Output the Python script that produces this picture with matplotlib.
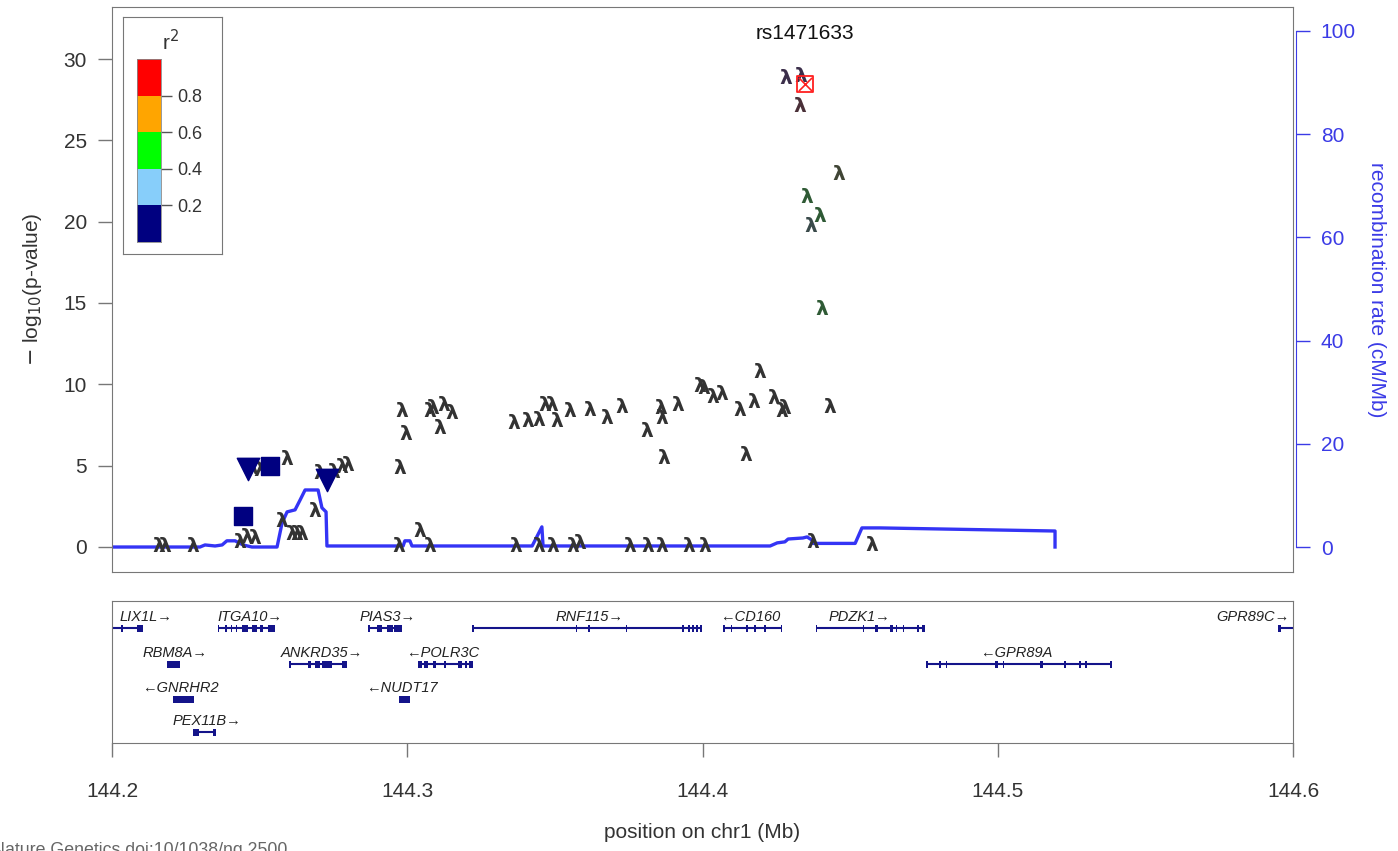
import numpy as np
import matplotlib.pyplot as plt
from matplotlib.patches import Rectangle

plt.rcParams['font.family'] = ['Liberation Sans', 'DejaVu Sans']

# ---- data ----
lead_name = "rs1471633"
lead_pos = 144.4347
lead_logp = 28.45

# SNPs drawn with the lambda glyph
snp_pos = [144.4283, 144.4334, 144.4330, 144.4462, 144.4354, 144.4398, 144.4367, 144.4405,
           144.2981, 144.2995, 144.2975, 144.3075, 144.3088, 144.3122, 144.3150, 144.3109,
           144.3359, 144.3408, 144.3444, 144.3467, 144.3489, 144.3506, 144.3549, 144.3617,
           144.3675, 144.3726, 144.3811, 144.3859, 144.3862, 144.3870, 144.3916, 144.3992,
           144.4003, 144.4033, 144.4065, 144.4127, 144.4172, 144.4147, 144.4195, 144.4242,
           144.4268, 144.4279, 144.4430,
           144.2970, 144.3043, 144.3077, 144.3368, 144.3447, 144.3494, 144.3562, 144.3585,
           144.3752, 144.3816, 144.3862, 144.3952, 144.4009, 144.4375, 144.4573,
           144.2157, 144.2180, 144.2273, 144.2434, 144.2456, 144.2484, 144.2472, 144.2501,
           144.2592, 144.2575, 144.2609, 144.2626, 144.2642, 144.2688, 144.2704, 144.2750,
           144.2778, 144.2800]
snp_logp = [28.8, 28.9, 27.1, 22.9, 21.5, 20.3, 19.7, 14.6,
            8.3, 6.9, 4.8, 8.3, 8.5, 8.7, 8.2, 7.3,
            7.6, 7.7, 7.8, 8.7, 8.7, 7.7, 8.3, 8.4,
            7.9, 8.6, 7.1, 8.5, 7.9, 5.45, 8.7, 9.85,
            9.75, 9.2, 9.4, 8.4, 8.9, 5.65, 10.7, 9.1,
            8.3, 8.5, 8.6,
            0.0, 0.95, 0.0, 0.0, 0.0, 0.0, 0.0, 0.2,
            0.0, 0.0, 0.0, 0.0, 0.0, 0.25, 0.1,
            0.0, 0.0, 0.0, 0.3, 0.6, 0.5, 4.8, 4.7,
            5.35, 1.55, 0.75, 0.75, 0.75, 2.2, 4.5, 4.6,
            4.9, 5.0]
snp_color = ["#3b2e4a", "#3b2e4a", "#4a3038", "#404535", "#2f5a35", "#2f5a35", "#3a4a4a", "#2f5a35"] + \
            ["#333333"] * (len(snp_pos) - 8)

# SNPs with other symbols (r2 < 0.2, navy)
tri_pos = [144.2462, 144.2727]
tri_logp = [4.8, 4.1]
sq_pos = [144.2445, 144.2535]
sq_logp = [1.9, 5.0]

# recombination rate (cM/Mb)
rec_pos = [144.2000, 144.2298, 144.2315, 144.2349, 144.2373, 144.2389, 144.2417, 144.2444,
           144.2474, 144.2559, 144.2576, 144.2593, 144.2620, 144.2637, 144.2654, 144.2698,
           144.2711, 144.2725, 144.2728, 144.2986, 144.2992, 144.3009, 144.3016, 144.3423,
           144.3456, 144.3460, 144.4229, 144.4253, 144.4279, 144.4290, 144.4340, 144.4354,
           144.4371, 144.4374, 144.4517, 144.4540, 144.4601, 144.5194, 144.5194]
rec_rate = [0.0, 0.0, 0.4, 0.2, 0.4, 1.2, 1.2, 0.4,
            0.0, 0.0, 4.65, 6.8, 7.2, 9.1, 11.05, 11.05,
            7.6, 6.8, 0.2, 0.2, 1.2, 1.2, 0.2, 0.2,
            3.9, 0.2, 0.2, 0.8, 1.0, 1.55, 1.75, 1.95,
            1.35, 0.7, 0.7, 3.7, 3.7, 3.1, 0.0]

# genes
gene_name = ["LIX1L", "ITGA10", "PIAS3", "RNF115", "CD160", "PDZK1", "GPR89C",
             "RBM8A", "ANKRD35", "POLR3C", "GPR89A", "GNRHR2", "NUDT17", "PEX11B"]
gene_strand = ["+", "+", "+", "+", "-", "+", "+", "+", "+", "-", "-", "-", "-", "+"]
gene_row = [0, 0, 0, 0, 0, 0, 0, 1, 1, 1, 1, 2, 2, 3]
gene_start = [144.1995, 144.2359, 144.2870, 144.3222, 144.4068, 144.4387, 144.5949,
              144.2185, 144.2603, 144.3036, 144.4757, 144.2207, 144.2972, 144.2274]
gene_end = [144.2104, 144.2552, 144.2982, 144.3998, 144.4268, 144.4754, 144.6005,
            144.2230, 144.2796, 144.3222, 144.5383, 144.2278, 144.3009, 144.2352]
gene_label_x = [144.2115, 144.2467, 144.2933, 144.3619, 144.4161, 144.4533, 144.5864,
                144.2213, 144.2711, 144.3121, 144.5062, 144.2230, 144.2982, 144.2322]
gene_exons = [
    [(144.2034, 144.2034), (144.2085, 144.2105)],
    [(144.2360, 144.2360), (144.2386, 144.2386), (144.2405, 144.2405), (144.2422, 144.2422),
     (144.2439, 144.2461), (144.2473, 144.2490), (144.2501, 144.2512), (144.2529, 144.2552)],
    [(144.2871, 144.2871), (144.2897, 144.2913), (144.2930, 144.2953), (144.2955, 144.2981)],
    [(144.3222, 144.3222), (144.3574, 144.3574), (144.3616, 144.3616), (144.3743, 144.3743),
     (144.3934, 144.3934), (144.3954, 144.3954), (144.3968, 144.3968), (144.3981, 144.3981),
     (144.3991, 144.3998)],
    [(144.4068, 144.4076), (144.4099, 144.4099), (144.4150, 144.4150), (144.4178, 144.4178),
     (144.4212, 144.4212), (144.4268, 144.4268)],
    [(144.4387, 144.4387), (144.4545, 144.4545), (144.4584, 144.4595), (144.4635, 144.4646),
     (144.4657, 144.4657), (144.4680, 144.4680), (144.4725, 144.4732), (144.4745, 144.4754)],
    [(144.5949, 144.5959)],
    [(144.2185, 144.2230)],
    [(144.2603, 144.2603), (144.2665, 144.2673), (144.2688, 144.2704), (144.2710, 144.2744),
     (144.2778, 144.2796)],
    [(144.3037, 144.3050), (144.3056, 144.3071), (144.3088, 144.3099), (144.3128, 144.3128),
     (144.3173, 144.3184), (144.3195, 144.3204), (144.3210, 144.3222)],
    [(144.4757, 144.4765), (144.4804, 144.4804), (144.4827, 144.4827), (144.4991, 144.5002),
     (144.5019, 144.5019), (144.5143, 144.5154), (144.5228, 144.5228), (144.5279, 144.5279),
     (144.5299, 144.5299), (144.5383, 144.5383)],
    [(144.2207, 144.2278)],
    [(144.2972, 144.3009)],
    [(144.2275, 144.2295), (144.2343, 144.2351)],
]

r2_bounds = [0.0, 0.2, 0.4, 0.6, 0.8, 1.0]
r2_colors = ["#000080", "#87CEFA", "#00FF00", "#FFA500", "#FF0000"]

# ---- figure ----
W, H = 1398, 851
fig = plt.figure(figsize=(W / 100, H / 100), dpi=100)
txt = "#333333"
frame = "#777777"
blue = "#3b3be6"

ax = fig.add_axes([112 / W, 1 - 572 / H, 1181 / W, 565 / H])
ax2 = ax.twinx()
ax.set_zorder(ax2.get_zorder() + 1)
ax.patch.set_visible(False)

ax.set_xlim(144.2, 144.6)
ax.set_ylim(-1.54, 33.2)
ax2.set_ylim(-4.84, 104.6)

# recombination line
ax2.plot(rec_pos, rec_rate, color="#3434f5", lw=2.4, zorder=1)

# points
for x, y, c in zip(snp_pos, snp_logp, snp_color):
    ax.text(x, y, "λ", ha="center", va="center", fontsize=14.5, fontweight="bold",
            color=c, family="DejaVu Sans", zorder=3)
ax.scatter(tri_pos, tri_logp, marker="v", s=260, color="#000080", zorder=4)
ax.scatter(sq_pos, sq_logp, marker="s", s=150, color="#000080", zorder=4)
ax.scatter([lead_pos], [lead_logp], marker="s", s=130, facecolor="none",
           edgecolor="#ff2020", lw=1.3, zorder=5)
ax.scatter([lead_pos], [lead_logp], marker="x", s=90, color="#ff2020", lw=1.2, zorder=5)
ax.text(lead_pos, 31.6, lead_name, ha="center", va="center", fontsize=15, color="#111111")

ax.set_xticks([])
ax.set_yticks([0, 5, 10, 15, 20, 25, 30])
ax.tick_params(axis="y", length=10, width=1, color=frame, labelsize=15,
               labelcolor=txt, pad=8)
for s in ax.spines.values():
    s.set_color(frame)
ax.set_ylabel(r"$-$ log$_{10}$(p-value)", fontsize=15, color=txt, labelpad=14)

ax2.set_yticks([0, 20, 40, 60, 80, 100])
ax2.tick_params(axis="y", length=10, width=1, color=blue, labelsize=15,
                labelcolor=blue, pad=8)
for s in ax2.spines.values():
    s.set_visible(False)
ax2.spines["right"].set_visible(True)
ax2.spines["right"].set_color(blue)
ax2.spines["right"].set_bounds(0, 100)
ax2.spines["right"].set_position(("outward", 2))
ax2.set_ylabel("recombination rate (cM/Mb)", rotation=270, fontsize=15,
               color=blue, labelpad=22)

# ---- gene panel ----
gax = fig.add_axes([112 / W, 1 - 743 / H, 1181 / W, 142 / H])
gax.set_xlim(144.2, 144.6)
gax.set_ylim(0, 142)
row_y = [115, 79, 44, 11]
navy = "#14148a"
for name, strand, row, g0, g1, lx, exons in zip(gene_name, gene_strand, gene_row, gene_start,
                                                 gene_end, gene_label_x, gene_exons):
    y = row_y[row]
    gax.plot([g0, g1], [y, y], color=navy, lw=1.5, solid_capstyle="butt")
    for e0, e1 in exons:
        w = max(e1 - e0, 0.0005)
        gax.add_patch(Rectangle((e0 if e1 > e0 else e0 - 0.00025, y - 3.5), w, 7,
                                color=navy, lw=0))
    label = name + "→" if strand == "+" else "←" + name
    gax.text(lx, y + 11, label, ha="center", va="center", fontsize=10.5,
             style="italic", color="#222222")

gax.set_yticks([])
gax.set_xticks([144.2, 144.3, 144.4, 144.5, 144.6])
gax.set_xticklabels(["144.2", "144.3", "144.4", "144.5", "144.6"])
gax.tick_params(axis="x", length=10, width=1, color=frame, labelsize=15,
                labelcolor=txt, pad=18)
for s in gax.spines.values():
    s.set_color(frame)
gax.set_xlabel("position on chr1 (Mb)", fontsize=15, color=txt, labelpad=16)

# ---- r2 legend ----
lax = fig.add_axes([123 / W, 1 - 254 / H, 99 / W, 237 / H])
lax.set_xticks([])
lax.set_yticks([])
lax.set_facecolor("white")
for s in lax.spines.values():
    s.set_color(frame)
lax.set_zorder(10)

cax = fig.add_axes([137 / W, 1 - 242 / H, 24 / W, 183 / H])
cax.bar([0] * 5, np.diff(r2_bounds), bottom=r2_bounds[:-1], width=1.0,
        color=r2_colors, edgecolor="none")
cax.set_xlim(-0.5, 0.5)
cax.set_ylim(0, 1)
cax.set_xticks([])
cax.set_yticks([0.2, 0.4, 0.6, 0.8])
cax.set_yticklabels(["0.2", "0.4", "0.6", "0.8"])
cax.yaxis.tick_right()
cax.tick_params(axis="y", length=8, width=1, color="#555555", labelsize=13,
                labelcolor=txt, pad=4)
for s in cax.spines.values():
    s.set_color("#888888")
    s.set_linewidth(0.6)
cax.set_zorder(11)
fig.text(171 / W, 1 - 42 / H, r"r$^2$", fontsize=15, color=txt, ha="center",
         va="center", zorder=12)

# source note, cut at the left edge as in the original
fig.text(287 / W, -4 / H, "Nature Genetics doi:10/1038/ng.2500", fontsize=12.8,
         color="#666666", ha="right", va="baseline")

fig.savefig("out.png", dpi=100)
